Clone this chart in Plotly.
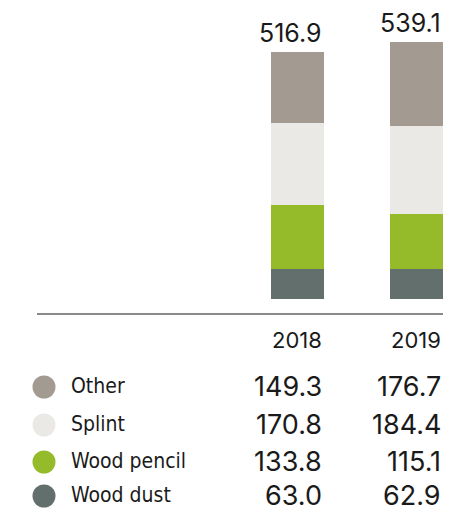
import plotly.graph_objects as go

# Values (thousand tonnes) by year
years = ["2018", "2019"]
categories = ["Other", "Splint", "Wood pencil", "Wood dust"]  # table order, top to bottom
other = [149.3, 176.7]
splint = [170.8, 184.4]
wood_pencil = [133.8, 115.1]
wood_dust = [63.0, 62.9]
totals = [516.9, 539.1]

colors = {
    "Other": "#a39a91",
    "Splint": "#ebe9e6",
    "Wood pencil": "#95bb2b",
    "Wood dust": "#636f6d",
}
series = {
    "Other": other,
    "Splint": splint,
    "Wood pencil": wood_pencil,
    "Wood dust": wood_dust,
}

W, H = 474, 512
BAR_W = 0.445
NUM_FONT = "Inter, Lato, sans-serif"
LABEL_FONT = "DejaVu Sans Condensed, Liberation Sans Narrow, sans-serif"


def py(px):
    """Pixel row from the top -> paper y."""
    return 1 - px / H


def px_x(px):
    return px / W


fig = go.Figure()

# stacked bars, bottom to top
for name in ["Wood dust", "Wood pencil", "Splint", "Other"]:
    fig.add_trace(go.Bar(
        x=years, y=series[name], name=name, width=BAR_W,
        marker=dict(color=colors[name], line=dict(width=0)),
        hoverinfo="skip",
    ))

annotations = []
# totals above bars, right-aligned with the bar edge
for i, t in enumerate(totals):
    annotations.append(dict(
        x=i + BAR_W / 2, y=t, xref="x", yref="y", text=f"{t:.1f}",
        xanchor="right", yanchor="bottom", showarrow=False, yshift=2,
        font=dict(family=NUM_FONT, size=25, color="#1a1a1a"),
    ))

# year headers of the table
for i, yr in enumerate(years):
    annotations.append(dict(
        x=i + BAR_W / 2, y=py(340), xref="x", yref="paper", text=yr,
        xanchor="right", yanchor="middle", showarrow=False,
        font=dict(family=NUM_FONT, size=22, color="#1a1a1a"),
    ))

row_y = [386, 424, 461, 495]
shapes = []
for r, name in enumerate(categories):
    yc = py(row_y[r])
    shapes.append(dict(
        type="circle", xref="paper", yref="paper",
        xsizemode="pixel", ysizemode="pixel",
        xanchor=px_x(44), yanchor=py(row_y[r] + 1),
        x0=-11.5, x1=11.5, y0=-11.5, y1=11.5,
        fillcolor=colors[name], line=dict(width=0),
    ))
    annotations.append(dict(
        x=px_x(69), y=yc, xref="paper", yref="paper", text=name,
        xanchor="left", yanchor="middle", showarrow=False,
        font=dict(family=LABEL_FONT, size=21, color="#1a1a1a"),
    ))
    for i in range(len(years)):
        v = series[name][i]
        annotations.append(dict(
            x=i + BAR_W / 2, y=yc, xref="x", yref="paper", text=f"{v:.1f}",
            xanchor="right", yanchor="middle", showarrow=False,
            font=dict(family=NUM_FONT, size=27, color="#1a1a1a"),
        ))

# baseline rule under the bars
shapes.append(dict(
    type="line", xref="paper", yref="paper",
    x0=px_x(37), x1=px_x(443), y0=py(314), y1=py(314),
    line=dict(color="#8a8a8a", width=2),
))

y_scale = 0.4775  # pixels per unit
fig.update_layout(
    width=W, height=H,
    margin=dict(l=0, r=0, t=0, b=0),
    paper_bgcolor="white", plot_bgcolor="white",
    barmode="stack", showlegend=False,
    xaxis=dict(type="category", range=[-297.5 / 119, (W - 297.5) / 119],
               showgrid=False, zeroline=False, showticklabels=False,
               showline=False, fixedrange=True),
    yaxis=dict(range=[-(H - 299) / y_scale, 299 / y_scale],
               showgrid=False, zeroline=False, showticklabels=False,
               showline=False, fixedrange=True),
    annotations=annotations,
    shapes=shapes,
)

fig.write_html("out.html")
